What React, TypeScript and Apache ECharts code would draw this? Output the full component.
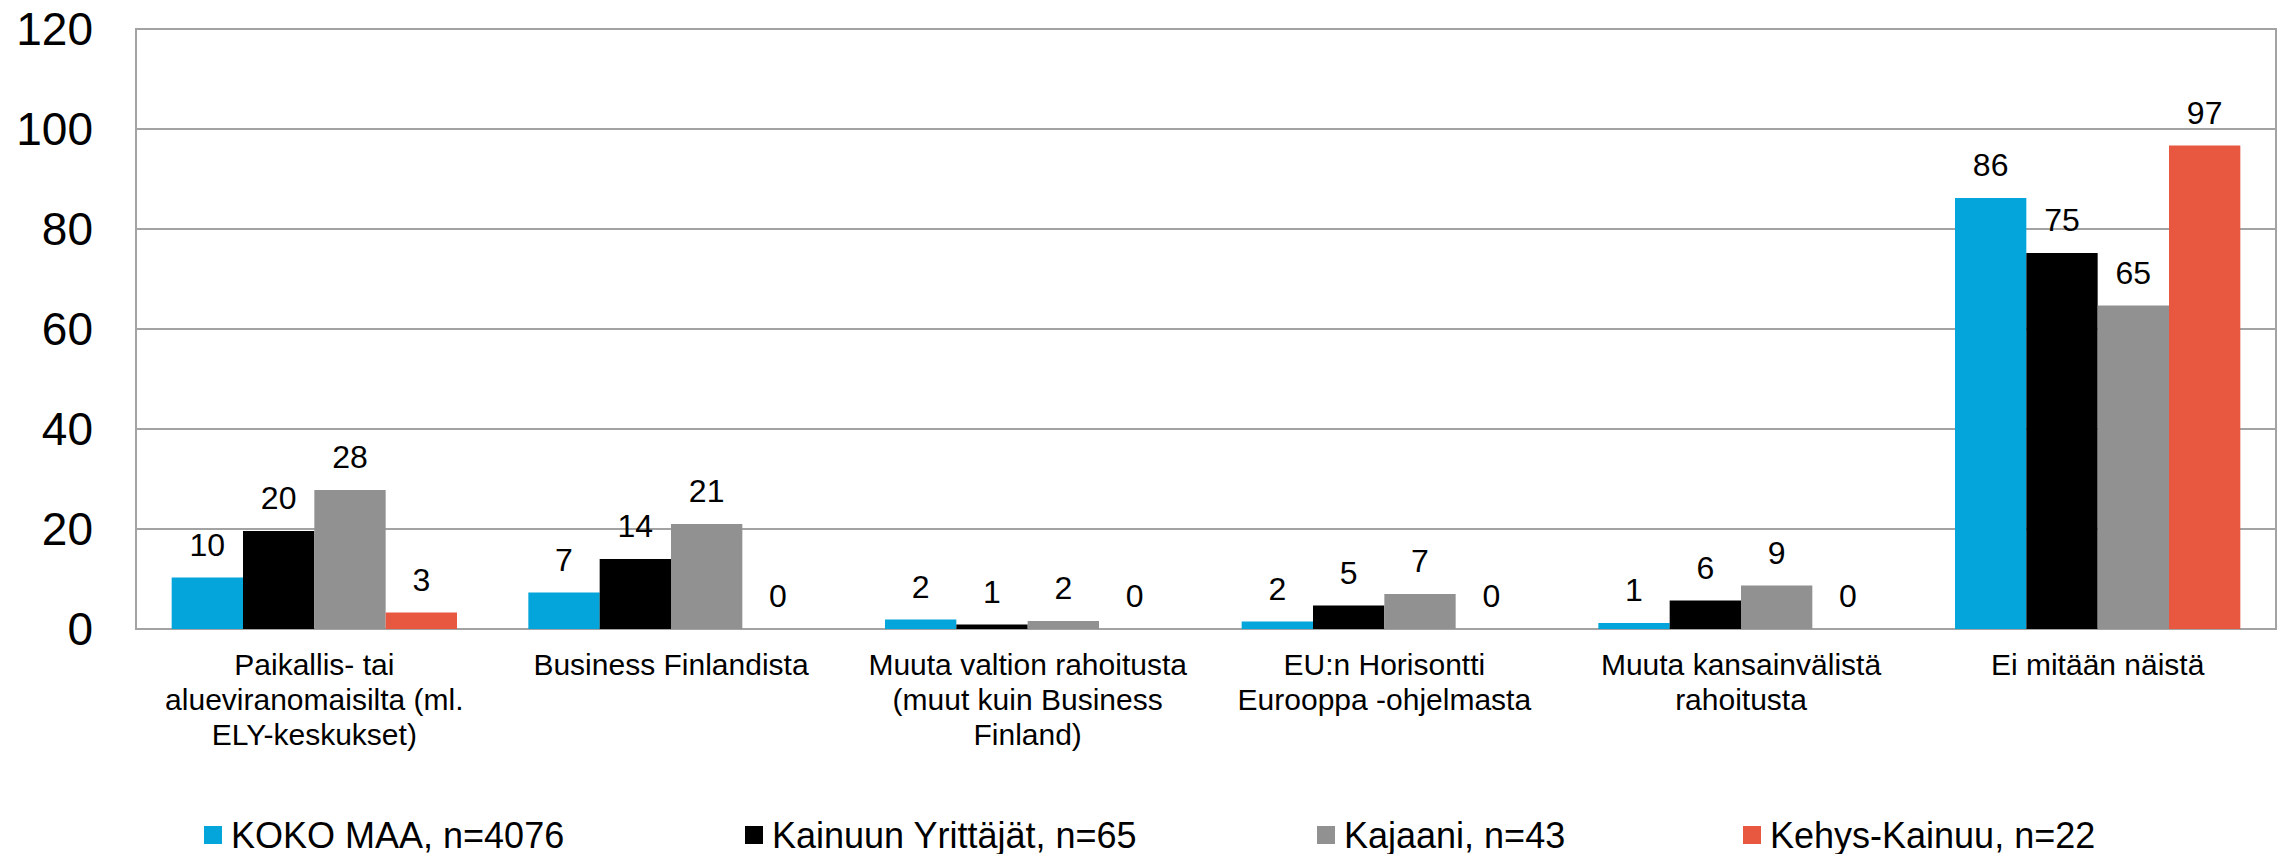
import React, { useEffect, useRef } from "react";
import * as echarts from "echarts";

const categories = [
  "Paikallis- tai\nalueviranomaisilta (ml.\nELY-keskukset)",
  "Business Finlandista",
  "Muuta valtion rahoitusta\n(muut kuin Business\nFinland)",
  "EU:n Horisontti\nEurooppa -ohjelmasta",
  "Muuta kansainvälistä\nrahoitusta",
  "Ei mitään näistä",
];

const seriesNames = [
  "KOKO MAA, n=4076",
  "Kainuun Yrittäjät, n=65",
  "Kajaani, n=43",
  "Kehys-Kainuu, n=22",
];

const kokoMaa = [10.3, 7.3, 1.9, 1.5, 1.2, 86.2];
const kainuunYrittajat = [19.6, 14.0, 0.9, 4.7, 5.7, 75.2];
const kajaani = [27.8, 21.0, 1.6, 7.0, 8.7, 64.7];
const kehysKainuu = [3.3, 0, 0, 0, 0, 96.7];

const yTicks = { min: 0, max: 120, interval: 20 };

const colors = ["#03A5DA", "#000000", "#919191", "#E85840"];
const legendLefts = [204, 745, 1317, 1743];

const FONT = "'Liberation Sans', Arial, Helvetica, sans-serif";

export default function App() {
  const ref = useRef<HTMLDivElement>(null);

  useEffect(() => {
    if (!ref.current) return;
    const chart = echarts.init(ref.current, null, { renderer: "svg" });
    const values = [kokoMaa, kainuunYrittajat, kajaani, kehysKainuu];

    const option: any = {
      animation: false,
      backgroundColor: "#ffffff",
      textStyle: { fontFamily: FONT },
      grid: {
        left: 136,
        right: 9,
        top: 29,
        bottom: 225,
        show: true,
        borderColor: "#a3a3a3",
        borderWidth: 2,
        containLabel: false,
      },
      legend: seriesNames.map((n, i) => ({
        data: [n],
        left: legendLefts[i],
        top: 815,
        padding: 0,
        itemWidth: 18,
        itemHeight: 18,
        icon: "rect",
        textStyle: {
          fontFamily: FONT,
          fontSize: 36,
          color: "#000",
          lineHeight: 40,
          padding: [0, 0, 0, 4],
        },
        selectedMode: false,
      })),
      xAxis: {
        type: "category",
        data: categories,
        axisTick: { show: false },
        axisLine: { show: true, lineStyle: { color: "#a3a3a3", width: 2 } },
        axisLabel: {
          interval: 0,
          fontFamily: FONT,
          fontSize: 30,
          lineHeight: 35,
          color: "#000",
          margin: 18,
          align: "center",
        },
      },
      yAxis: {
        type: "value",
        min: yTicks.min,
        max: yTicks.max,
        interval: yTicks.interval,
        axisLine: { show: true, lineStyle: { color: "#a3a3a3", width: 2 } },
        axisTick: { show: false },
        splitLine: { lineStyle: { color: "#a3a3a3", width: 2 } },
        axisLabel: {
          fontFamily: FONT,
          fontSize: 46,
          color: "#000",
          margin: 43,
        },
      },
      series: seriesNames.map((n, i) => ({
        name: n,
        type: "bar",
        data: values[i],
        barGap: "0%",
        barCategoryGap: "20%",
        itemStyle: { color: colors[i] },
        label: {
          show: true,
          position: "top",
          distance: 17,
          fontFamily: FONT,
          fontSize: 32,
          color: "#000",
          formatter: (p: any) => String(Math.round(p.value)),
        },
      })),
    };

    chart.setOption(option);
    return () => chart.dispose();
  }, []);

  return (
    <div
      ref={ref}
      style={{ position: "fixed", left: 0, top: 0, width: 2285, height: 854 }}
    />
  );
}
